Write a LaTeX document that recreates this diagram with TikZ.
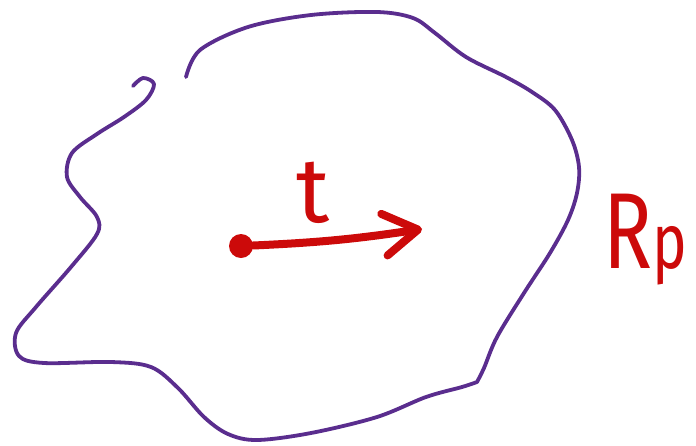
\documentclass[tikz,border=0pt]{standalone}
\usepackage{fontspec}
\setmainfont{Fira Sans}
\usepackage{tikz}
\usetikzlibrary{arrows.meta,positioning}
\definecolor{sketchpurple}{HTML}{5A2D8E}
\definecolor{sketchred}{HTML}{CC0A0A}

\begin{document}
\begin{tikzpicture}[x=1pt,y=-1pt,
  boundary/.style={draw=sketchpurple,line width=3.8pt,line cap=round,line join=round},
  handtext/.style={text=sketchred,inner sep=0pt,font=\fontsize{#1}{#1}\selectfont},
  vec/.style={draw=sketchred,line width=8pt,line cap=round,-{Straight Barb[round,length=34pt,width=42pt]}}]
\clip (0,0) rectangle (696,445);
% region outline, open at the top left
\draw[boundary] plot[smooth,tension=0.55] coordinates {(133,86) (143,78) (154,84) (146,100) (124,117) (97,134) (72,153) (67,177) (80,197) (97,217) (97,234) (71,267) (36,307) (16,333) (19,356) (44,363) (111,362) (151,367) (178,388) (204,417) (228,434) (257,440) (311,433) (377,417) (426,397) (462,387) (477,382)}
  -- plot[smooth,tension=0.55] coordinates {(477,382) (484,368) (497,337) (524,293) (550,253) (568,220) (577,193) (579,167) (572,140) (555,110) (532,92) (506,77) (466,57) (435,33) (413,18) (377,12) (311,15) (248,27) (200,50) (186,77)};
\node[circle,fill=sketchred,minimum size=24pt,inner sep=0pt] (dot) at (241,246) {};
\coordinate (tip) at (422,229);
\draw[vec] (dot) to[bend right=3] (tip);
\node[handtext=92,anchor=base] (tlabel) at (313,222) {t};
\node[handtext=108,anchor=base west,xscale=0.75] (region) at (603,268) {R{\fontsize{78}{78}\selectfont p}};
\end{tikzpicture}
\end{document}
